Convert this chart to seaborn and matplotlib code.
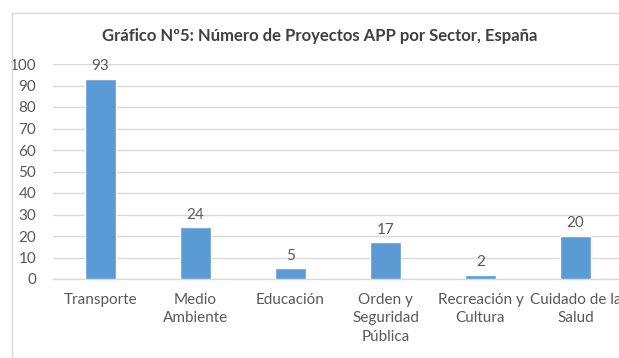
import matplotlib
matplotlib.use("Agg")
import matplotlib.pyplot as plt
import seaborn as sns
import pandas as pd
from matplotlib.patches import Rectangle

sectores = ["Transporte", "Medio\nAmbiente", "Educación", "Orden y\nSeguridad\nPública",
            "Recreación y\nCultura", "Cuidado de la\nSalud"]
proyectos = [93, 24, 5, 17, 2, 20]
y_ticks = [0, 10, 20, 30, 40, 50, 60, 70, 80, 90, 100]

sns.set_theme(style="white")
plt.rcParams["font.family"] = ["Lato", "DejaVu Sans"]

df = pd.DataFrame({"sector": sectores, "proyectos": proyectos})

W, H = 619, 358
fig = plt.figure(figsize=(W / 100, H / 100), dpi=100)
fig.patch.set_facecolor("white")

# chart frame
fig.add_artist(Rectangle((12 / W, -0.1), 1.2, (H - 13) / H + 0.1, transform=fig.transFigure,
                         fill=False, edgecolor="#D9D9D9", linewidth=1.0))

ax = fig.add_axes([53 / W, (H - 279) / H, 570 / W, 215 / H])
sns.barplot(data=df, x="sector", y="proyectos", color="#5B9BD5", width=0.32,
            saturation=1, ax=ax, zorder=3)

ax.set_ylim(0, 100)
ax.set_xlim(-0.5, 5.5)
ax.set_yticks(y_ticks)
ax.set_yticklabels([str(t) for t in y_ticks])
ax.yaxis.grid(True, color="#D9D9D9", linewidth=1.0, zorder=0)
ax.set_axisbelow(True)
for s in ["top", "right", "left"]:
    ax.spines[s].set_visible(False)
ax.spines["bottom"].set_color("#D9D9D9")
ax.spines["bottom"].set_linewidth(1.0)
ax.set_xlabel("")
ax.set_ylabel("")
ax.tick_params(axis="y", length=0, pad=12, labelsize=11, labelcolor="#595959")
ax.tick_params(axis="x", length=0, pad=10, labelsize=11, labelcolor="#595959")
for lbl in ax.get_xticklabels():
    lbl.set_linespacing(1.4)
    lbl.set_verticalalignment("top")

for i, v in enumerate(proyectos):
    ax.annotate(str(v), (i, v), xytext=(0, 4), textcoords="offset points",
                ha="center", va="bottom", fontsize=11, color="#595959")

fig.text(320 / W, (H - 36) / H, "Gráfico Nº5: Número de Proyectos APP por Sector, España",
         ha="center", va="center", fontsize=12, fontweight="bold", color="#404040")

fig.savefig("out.png", dpi=100, facecolor="white")
